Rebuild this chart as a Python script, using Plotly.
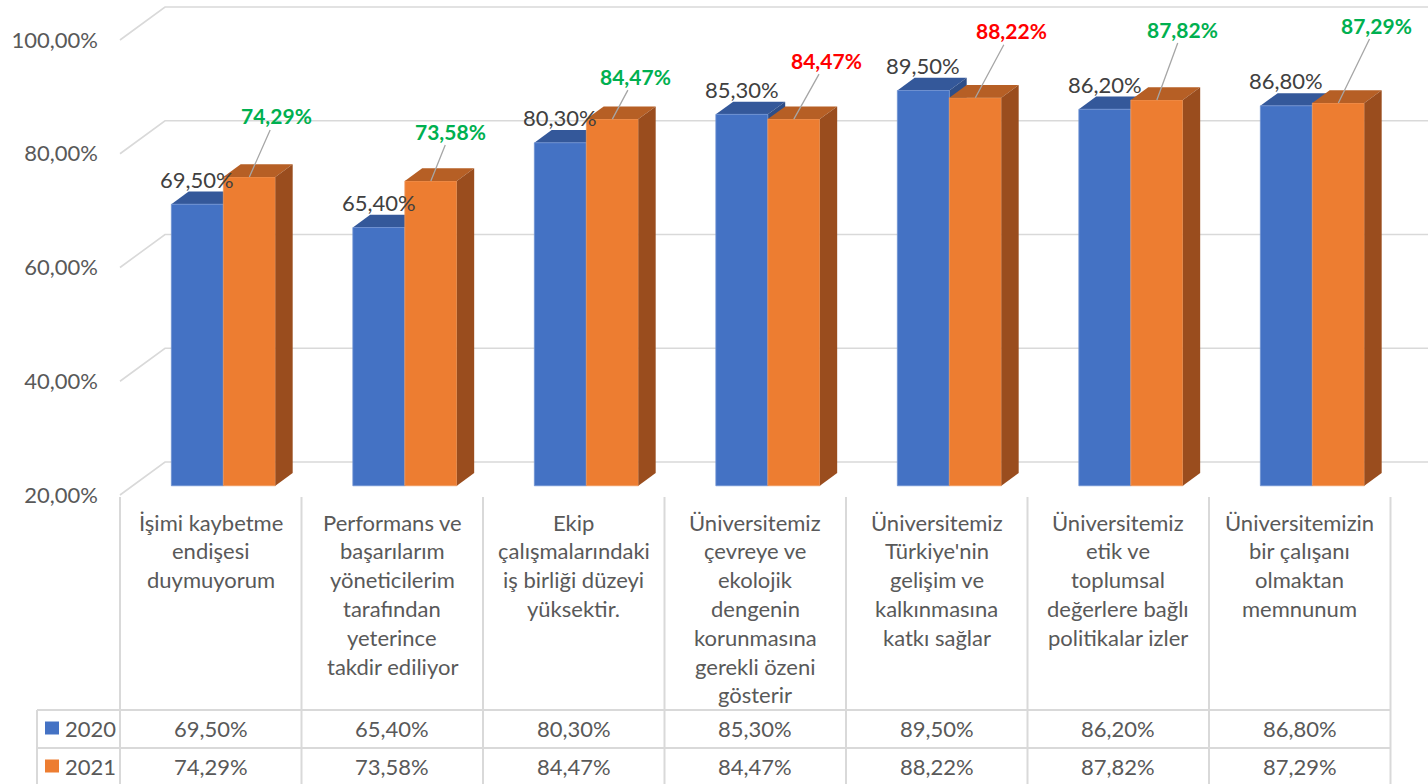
import plotly.graph_objects as go

# ---------------- data ----------------
categories = [
    "İşimi kaybetme<br>endişesi<br>duymuyorum",
    "Performans ve<br>başarılarım<br>yöneticilerim<br>tarafından<br>yeterince<br>takdir ediliyor",
    "Ekip<br>çalışmalarındaki<br>iş birliği düzeyi<br>yüksektir.",
    "Üniversitemiz<br>çevreye ve<br>ekolojik<br>dengenin<br>korunmasına<br>gerekli özeni<br>gösterir",
    "Üniversitemiz<br>Türkiye'nin<br>gelişim ve<br>kalkınmasına<br>katkı sağlar",
    "Üniversitemiz<br>etik ve<br>toplumsal<br>değerlere bağlı<br>politikalar izler",
    "Üniversitemizin<br>bir çalışanı<br>olmaktan<br>memnunum",
]
series_names = ["2020", "2021"]
values_2020 = [69.50, 65.40, 80.30, 85.30, 89.50, 86.20, 86.80]
values_2021 = [74.29, 73.58, 84.47, 84.47, 88.22, 87.82, 87.29]
y_ticks = [20, 40, 60, 80, 100]
y_ticktext = ["20,00%", "40,00%", "60,00%", "80,00%", "100,00%"]

# label offsets (pixels) of the 2021 data labels relative to their bars
label_dx = [27, 20, 23, 33, 36, 26, 38]
label_dy = [-61, -50, -43, -59, -67, -71, -78]

# ---------------- styling / geometry ----------------
W_FIG, H_FIG = 1428, 784
COL_PX = 181.5          # width of one category column
COL0_PX = 120           # left edge of first column
Y20_PX = 495            # pixel row of the 20% level on the front plane
PX_PER_PCT = 5.6875
FONT = "Lato"
FS = 22
GRID = "#D9D9D9"
TXT = "#595959"
BLUE, BLUE_TOP, BLUE_SIDE = "#4472C4", "#34589A", "#2E4E88"
ORANGE, ORANGE_TOP, ORANGE_SIDE = "#ED7D31", "#B65F25", "#9A4D1E"
GREEN, RED = "#00B050", "#FF0000"

def px2x(px):
    return (px - COL0_PX) / COL_PX - 0.5

def px2y(py):
    return 20 + (Y20_PX - py) / PX_PER_PCT

x_range = [px2x(0), px2x(W_FIG)]
y_range = [px2y(H_FIG), px2y(0)]

DX = 45 / COL_PX            # full depth of the box, x units
DY = 33 / PX_PER_PCT        # full depth of the box, y units
FRONT_D, BAR_D = 0.28, 0.385
sx, sy = FRONT_D * DX, FRONT_D * DY
bx, by = BAR_D * DX, BAR_D * DY
BW = 52 / COL_PX            # bar width
BASE = y_ticks[0]

fig = go.Figure()
shapes = []
annotations = []

# gridlines: left wall diagonal + back wall horizontal
for v in y_ticks:
    shapes.append(dict(
        type="path", xref="x", yref="y", layer="below",
        path=f"M {-0.5},{v} L {-0.5 + DX},{v + DY} L {x_range[1]},{v + DY}",
        line=dict(color=GRID, width=1.6),
    ))

n = len(categories)
xb = [i + sx - BW / 2 for i in range(n)]
xo = [i + sx + BW / 2 for i in range(n)]

def faces(xc, v, top_col, side_col, layer):
    x0, x1 = xc - BW / 2, xc + BW / 2
    t, b = v + sy, BASE + sy
    return [
        dict(type="path", xref="x", yref="y", layer=layer,
             path=f"M {x0},{t} L {x1},{t} L {x1 + bx},{t + by} L {x0 + bx},{t + by} Z",
             fillcolor=top_col, line=dict(width=0)),
        dict(type="path", xref="x", yref="y", layer=layer,
             path=f"M {x1},{b} L {x1},{t} L {x1 + bx},{t + by} L {x1 + bx},{b + by} Z",
             fillcolor=side_col, line=dict(width=0)),
    ]

for i in range(n):
    shapes += faces(xb[i], values_2020[i], BLUE_TOP, BLUE_SIDE, "below")
for i in range(n):
    shapes += faces(xo[i], values_2021[i], ORANGE_TOP, ORANGE_SIDE, "above")

fig.add_trace(go.Bar(
    x=xb, y=[v - BASE for v in values_2020], base=BASE + sy, width=BW,
    name=series_names[0], marker=dict(color=BLUE, line=dict(color="#6F92D2", width=0.8)),
    hoverinfo="skip", showlegend=False,
))
fig.add_trace(go.Bar(
    x=xo, y=[v - BASE for v in values_2021], base=BASE + sy, width=BW,
    name=series_names[1], marker=dict(color=ORANGE, line=dict(color="#F09A5E", width=0.8)),
    hoverinfo="skip", showlegend=False,
))

def pct(v):
    return f"{v:.2f}".replace(".", ",") + "%"

# data labels 2020
for i, v in enumerate(values_2020):
    annotations.append(dict(
        x=xb[i], y=v + sy + by, xref="x", yref="y", text=pct(v),
        showarrow=False, yanchor="bottom", yshift=-3,
        font=dict(family=FONT, size=FS, color="#404040"),
    ))
# data labels 2021 with leader lines
for i, v in enumerate(values_2021):
    col = GREEN if v >= values_2020[i] else RED
    annotations.append(dict(
        x=xo[i], y=v + sy, xref="x", yref="y", text=pct(v),
        showarrow=True, arrowhead=0, arrowwidth=1.3, arrowcolor="#A6A6A6",
        ax=label_dx[i], ay=label_dy[i], standoff=0,
        font=dict(family=FONT, size=21, color=col, weight="bold"),
    ))

# ---------------- data table ----------------
TOP_PX, ROW1_PX, ROW2_PX, BOT_PX = 497, 710, 748, 786
LEG_L_PX = 37
for i in range(n + 1):
    shapes.append(dict(type="line", xref="x", yref="y", layer="above",
                       x0=i - 0.5, x1=i - 0.5, y0=px2y(TOP_PX), y1=px2y(BOT_PX),
                       line=dict(color=GRID, width=2)))
for py in (ROW1_PX, ROW2_PX, BOT_PX):
    shapes.append(dict(type="line", xref="x", yref="y", layer="above",
                       x0=px2x(LEG_L_PX), x1=n - 0.5, y0=px2y(py), y1=px2y(py),
                       line=dict(color=GRID, width=2)))
shapes.append(dict(type="line", xref="x", yref="y", layer="above",
                   x0=px2x(LEG_L_PX), x1=px2x(LEG_L_PX), y0=px2y(ROW1_PX), y1=px2y(BOT_PX),
                   line=dict(color=GRID, width=2)))

LINE_H = 28.8
FIRST_LINE_PX = 522
for i, c in enumerate(categories):
    for j, line in enumerate(c.split("<br>")):
        annotations.append(dict(
            x=i, y=px2y(FIRST_LINE_PX + j * LINE_H), xref="x", yref="y",
            text=line, showarrow=False, xanchor="center", yanchor="middle",
            font=dict(family=FONT, size=FS, color=TXT),
        ))

row_centers = [728, 766]
for r, (vals, name, col) in enumerate(zip([values_2020, values_2021], series_names, [BLUE, ORANGE])):
    yc = row_centers[r]
    shapes.append(dict(type="rect", xref="x", yref="y", layer="above",
                       x0=px2x(45), x1=px2x(59), y0=px2y(yc - 6.5), y1=px2y(yc + 6.5),
                       fillcolor=col, line=dict(width=0)))
    annotations.append(dict(
        x=px2x(63), y=px2y(yc), xref="x", yref="y", text=name, showarrow=False,
        xanchor="left", yanchor="middle", font=dict(family=FONT, size=FS, color=TXT),
    ))
    for i, v in enumerate(vals):
        annotations.append(dict(
            x=i, y=px2y(yc), xref="x", yref="y", text=pct(v), showarrow=False,
            xanchor="center", yanchor="middle", font=dict(family=FONT, size=FS, color=TXT),
        ))

fig.update_layout(
    width=W_FIG, height=H_FIG,
    margin=dict(l=0, r=0, t=0, b=0),
    paper_bgcolor="white", plot_bgcolor="white",
    barmode="overlay",
    showlegend=False,
    shapes=shapes, annotations=annotations,
    xaxis=dict(range=x_range, visible=False, fixedrange=True),
    yaxis=dict(range=y_range, tickmode="array", tickvals=y_ticks, ticktext=y_ticktext,
               showgrid=False, zeroline=False, showline=False, ticks="",
               anchor="free", position=COL0_PX / W_FIG, ticklabelstandoff=22,
               tickfont=dict(family=FONT, size=FS, color=TXT), fixedrange=True),
)

fig.write_html(
    "out.html",
    config={"displayModeBar": False},
    post_script="document.body.style.margin='0px';document.body.style.overflow='hidden';",
)
